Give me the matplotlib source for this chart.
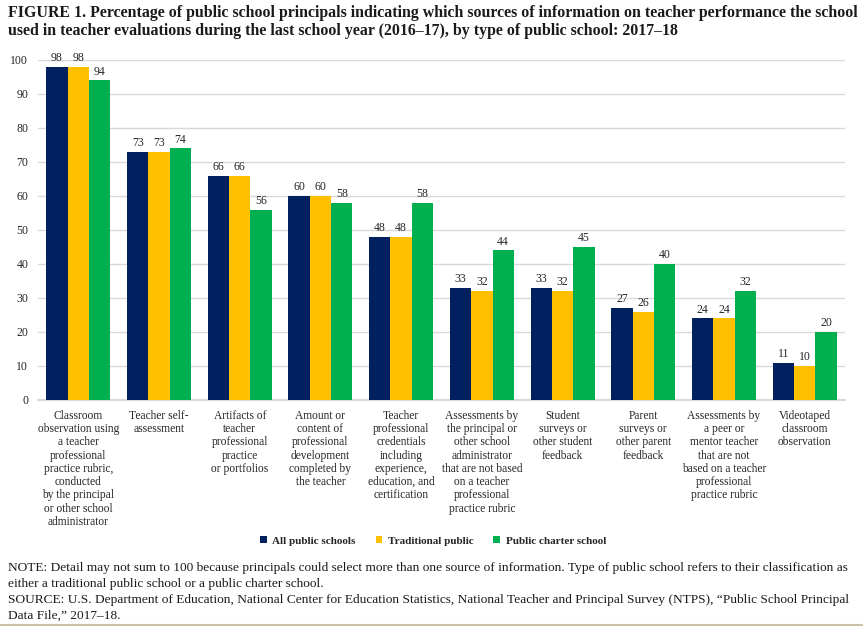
import matplotlib
matplotlib.use("Agg")
import matplotlib.pyplot as plt
from matplotlib.lines import Line2D
import numpy as np

categories = [
    "Classroom\nobservation using\na teacher\nprofessional\npractice rubric,\nconducted\nby the principal\nor other school\nadministrator",
    "Teacher self-\nassessment",
    "Artifacts of\nteacher\nprofessional\npractice\nor portfolios",
    "Amount or\ncontent of\nprofessional\ndevelopment\ncompleted by\nthe teacher",
    "Teacher\nprofessional\ncredentials\nincluding\nexperience,\neducation, and\ncertification",
    "Assessments by\nthe principal or\nother school\nadministrator\nthat are not based\non a teacher\nprofessional\npractice rubric",
    "Student\nsurveys or\nother student\nfeedback",
    "Parent\nsurveys or\nother parent\nfeedback",
    "Assessments by\na peer or\nmentor teacher\nthat are not\nbased on a teacher\nprofessional\npractice rubric",
    "Videotaped\nclassroom\nobservation",
]
all_public = [98, 73, 66, 60, 48, 33, 33, 27, 24, 11]
traditional = [98, 73, 66, 60, 48, 32, 32, 26, 24, 10]
charter = [94, 74, 56, 58, 58, 44, 45, 40, 32, 20]
series_names = ["All public schools", "Traditional public", "Public charter school"]
colors = ["#002060", "#FFC000", "#00B050"]

SERIF = "Liberation Serif"
TXT = "#262626"

fig = plt.figure(figsize=(8.63, 6.26), dpi=100)
ax = fig.add_axes([38 / 863, 1 - 400 / 626, (845 - 38) / 863, 340 / 626])

x = np.arange(len(categories))
w = 0.264
for i, (vals, name, c) in enumerate(zip([all_public, traditional, charter], series_names, colors)):
    bars = ax.bar(x + (i - 1) * w, vals, w, color=c, label=name, zorder=3)
    for b, v in zip(bars, vals):
        ax.annotate(str(v), (b.get_x() + b.get_width() / 2, v), xytext=(0, 2),
                    textcoords="offset points", ha="center", va="bottom",
                    fontsize=8.5, family=SERIF, color=TXT)

ax.set_xlim(-0.5, 9.5)
ax.set_ylim(0, 100)
ax.set_yticks(range(0, 101, 10))
ax.yaxis.grid(True, color="#D9D9D9", linewidth=1, zorder=0)
ax.tick_params(axis="y", length=0, pad=7, labelsize=8.5, labelcolor=TXT)
for lab in ax.get_yticklabels():
    lab.set_family(SERIF)
ax.set_xticks(x)
ax.set_xticklabels(categories, fontsize=8.3, family=SERIF, color=TXT, linespacing=1.14)
ax.tick_params(axis="x", length=0, pad=7)
for s in ["top", "right", "left"]:
    ax.spines[s].set_visible(False)
ax.spines["bottom"].set_color("#D9D9D9")
ax.spines["bottom"].set_linewidth(1.5)

leg = fig.legend(loc="center", bbox_to_anchor=(433 / 863, 1 - 541 / 626), ncol=3, frameon=False,
                 handlelength=0.6, handleheight=0.6, handletextpad=0.5, columnspacing=1.8,
                 prop={"family": SERIF, "weight": "bold", "size": 8})
for t in leg.get_texts():
    t.set_color(TXT)

fig.text(8 / 863, 1 - 5 / 626,
         "FIGURE 1. Percentage of public school principals indicating which sources of information on teacher performance the school\n"
         "used in teacher evaluations during the last school year (2016\u201317), by type of public school: 2017\u201318",
         ha="left", va="top", fontsize=11.4, family=SERIF, weight="bold", color="#1a1a1a", linespacing=1.15)

fig.text(8 / 863, 1 - 562 / 626,
         "NOTE: Detail may not sum to 100 because principals could select more than one source of information. Type of public school refers to their classification as\n"
         "either a traditional public school or a public charter school.\n"
         "SOURCE: U.S. Department of Education, National Center for Education Statistics, National Teacher and Principal Survey (NTPS), \u201cPublic School Principal\n"
         "Data File,\u201d 2017\u201318.",
         ha="left", va="top", fontsize=9.6, family=SERIF, color="#1a1a1a", linespacing=1.45)

fig.add_artist(Line2D([0, 1], [1 / 626, 1 / 626], transform=fig.transFigure, color="#C9C2A3", linewidth=1.5))

fig.savefig("out.png", dpi=100)
